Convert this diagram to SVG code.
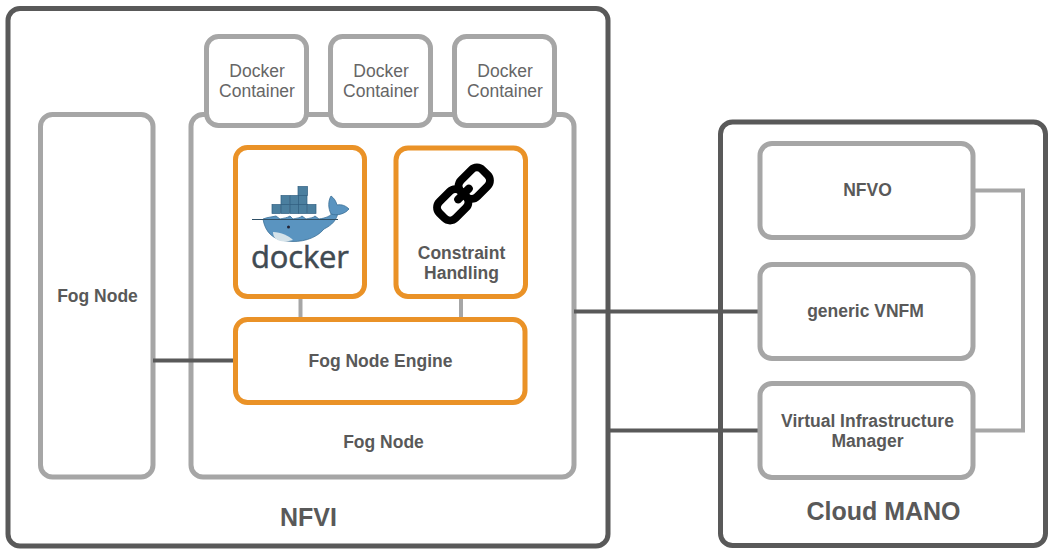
<svg xmlns="http://www.w3.org/2000/svg" width="1058" height="556" viewBox="0 0 1058 556">
<style>
text{font-family:"Liberation Sans",Arial,sans-serif;fill:#595959;text-anchor:middle}
.b{font-weight:bold;font-size:17.5px}
.n{font-size:17.5px;fill:#666}
.t{font-weight:bold;font-size:25px}
.dark{fill:#fff;stroke:#595959;stroke-width:5}
.gray{fill:#fff;stroke:#a6a6a6;stroke-width:5}
.org{fill:#fff;stroke:#ea9227;stroke-width:5}
.cd{fill:none;stroke:#595959;stroke-width:4}
.cg{fill:none;stroke:#a6a6a6;stroke-width:4}
.box{fill:#4b7f9f;stroke:#2f5f80;stroke-width:.7}
</style>
<rect width="1058" height="556" fill="#fff"/>
<g id="nfvi"><rect class="dark" x="8" y="8.500" width="600" height="537.500" rx="12"/><text class="t" x="308.500" y="526">NFVI</text></g>
<g id="cloud-mano"><rect class="dark" x="720.500" y="122" width="325" height="423.500" rx="12"/><text class="t" x="883.500" y="520">Cloud MANO</text></g>
<g id="fog-node-left"><rect class="gray" x="40.500" y="114.500" width="112.500" height="362.500" rx="12"/><text class="b" x="97.500" y="302">Fog Node</text></g>
<g id="fog-node-main"><rect class="gray" x="191" y="114.500" width="383" height="362.500" rx="12"/><text class="b" x="383.500" y="448">Fog Node</text></g>
<g id="connectors">
<path class="cd" d="M153 360.500H236"/>
<path class="cd" d="M574 311.500H761"/>
<path class="cd" d="M608 430.500H761"/>
<path class="cg" d="M300.500 296V320"/>
<path class="cg" d="M461 296V320"/>
<path class="cg" d="M973 190.500H1023V430.500H973"/>
</g>
<g id="docker-container-1"><rect class="gray" x="206.500" y="36.500" width="100" height="89" rx="12"/><text class="n" x="257" y="77">Docker</text><text class="n" x="257" y="97">Container</text></g>
<g id="docker-container-2"><rect class="gray" x="330.500" y="36.500" width="100" height="89" rx="12"/><text class="n" x="381" y="77">Docker</text><text class="n" x="381" y="97">Container</text></g>
<g id="docker-container-3"><rect class="gray" x="454.500" y="36.500" width="100" height="89" rx="12"/><text class="n" x="505" y="77">Docker</text><text class="n" x="505" y="97">Container</text></g>
<g id="docker-engine"><rect class="org" x="235.500" y="147.500" width="129" height="149" rx="12"/>
<g>
<rect class="box" x="298" y="186.500" width="9.500" height="9"/>
<rect class="box" x="281" y="195.500" width="8.500" height="9"/><rect class="box" x="290" y="195.500" width="8.500" height="9"/><rect class="box" x="298.500" y="195.500" width="8.500" height="9"/>
<rect class="box" x="272" y="204.500" width="8.500" height="9"/><rect class="box" x="281" y="204.500" width="8.500" height="9"/><rect class="box" x="290" y="204.500" width="8.500" height="9"/><rect class="box" x="298.500" y="204.500" width="8.500" height="9"/><rect class="box" x="307.500" y="204.500" width="8.500" height="9"/>
<path d="M263 219C268 217 272 217 276 216L280 219C284 218 287 218 290 216L293 219C297 218 300 218 302 216L306 219C310 218 313 218 315 216L319 219C326 218 331 216 333 212L338 212C337 220 332 225 324 229C316 239 300 243 287 241C273 240 265 232 263 219Z" fill="#5a94c0" stroke="#3a6f96" stroke-width=".8"/>
<path d="M331 214C328 208 328 201 331 196C334 198 336 201 337 205C342 204 346 206 349 209C345 214 337 216 331 214Z" fill="#5a94c0" stroke="#3a6f96" stroke-width=".8"/>
<path d="M273 232C281 232 289 236 293 240C287 242 279 242 276 239C274 237 273 235 273 232Z" fill="#d5e3ea"/>
<circle cx="288.500" cy="227" r="1.500" fill="#223"/>
<path d="M252 219.500H338" stroke="#2f4f66" stroke-width="1" fill="none"/>
</g>
<text x="300" y="267.500" style="font-family:'Open Sans','Noto Sans',sans-serif;font-size:31px;fill:#3f4a52;stroke:#3f4a52;stroke-width:.5px" textLength="98" lengthAdjust="spacing">docker</text>
</g>
<g id="constraint-handling"><rect class="org" x="396" y="148" width="129.500" height="148.500" rx="12"/>
<g transform="rotate(-45 463.500 194)" fill="none" stroke="#000" stroke-width="8" stroke-linejoin="round">
<rect x="433" y="182.500" width="30.500" height="23" rx="8"/>
<rect x="463.500" y="182.500" width="30.500" height="23" rx="8"/>
<path d="M456 194H471" stroke-linecap="round"/>
</g>
<text class="b" x="461.500" y="259">Constraint</text><text class="b" x="461.500" y="279">Handling</text></g>
<g id="fog-node-engine"><rect class="org" x="235.500" y="319.500" width="289.500" height="83" rx="12"/><text class="b" x="380.500" y="367">Fog Node Engine</text></g>
<g id="nfvo"><rect class="gray" x="760" y="143.500" width="213" height="94" rx="12"/><text class="b" x="867.500" y="196">NFVO</text></g>
<g id="generic-vnfm"><rect class="gray" x="760" y="264.500" width="213" height="94" rx="12"/><text class="b" x="865.500" y="317">generic VNFM</text></g>
<g id="vim"><rect class="gray" x="760" y="383.500" width="213" height="94" rx="12"/><text class="b" x="867.500" y="427">Virtual Infrastructure</text><text class="b" x="867.500" y="447">Manager</text></g>
</svg>
